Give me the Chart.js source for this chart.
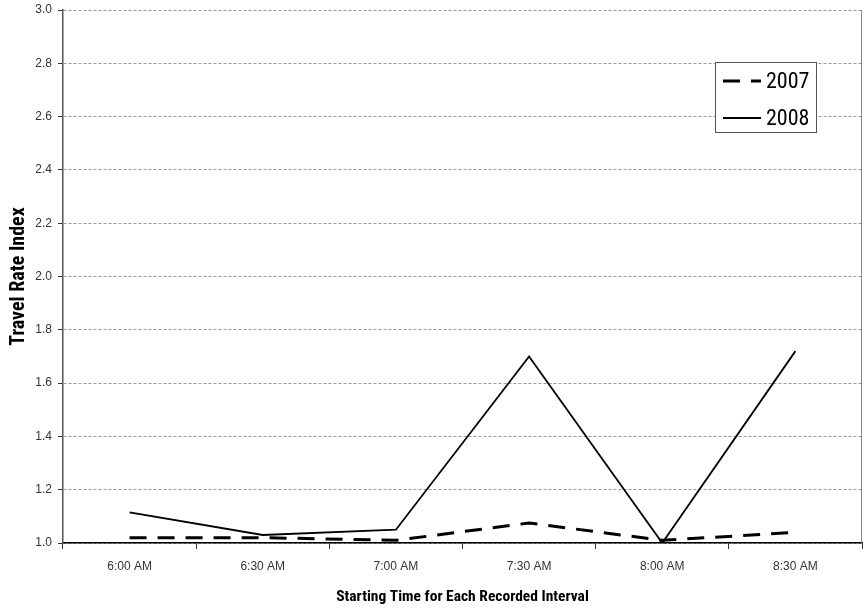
<!DOCTYPE html>
<html>
<head>
<meta charset="utf-8">
<script src="https://cdn.jsdelivr.net/npm/chart.js@4/dist/chart.umd.min.js"></script>
<style>
html,body{margin:0;padding:0;background:#fff;}
#wrap{width:865px;height:610px;position:relative;}
</style>
</head>
<body>
<div id="wrap"><canvas id="c" width="865" height="610"></canvas></div>
<script>
const categories = ["6:00 AM","6:30 AM","7:00 AM","7:30 AM","8:00 AM","8:30 AM"];
const series2007 = [1.02, 1.02, 1.01, 1.075, 1.01, 1.04];
const series2008 = [1.115, 1.03, 1.05, 1.70, 1.00, 1.72];
const yTicks = [1.0,1.2,1.4,1.6,1.8,2.0,2.2,2.4,2.6,2.8,3.0];
const seriesNames = ["2007","2008"];
const xTitle = "Starting Time for Each Recorded Interval";
const yTitle = "Travel Rate Index";

const NARROW = "'Liberation Sans Narrow','Roboto Condensed','DejaVu Sans Condensed',sans-serif";
const SANS = "'Liberation Sans',Arial,sans-serif";

const frame = {
  id:'frame',
  afterDraw(chart){
    const {ctx, chartArea:a} = chart;
    ctx.save();
    ctx.strokeStyle = '#888';
    ctx.lineWidth = 1;
    ctx.beginPath();
    ctx.moveTo(a.right-0.5, a.top);
    ctx.lineTo(a.right-0.5, a.bottom);
    ctx.stroke();
    // legend box
    const x0=715, y0=62, w=101, h=70;
    ctx.fillStyle='#fff';
    ctx.fillRect(x0,y0,w,h);
    ctx.strokeStyle='#555';
    ctx.lineWidth=1;
    ctx.strokeRect(x0+0.5,y0+0.5,w,h);
    const ds = chart.data.datasets;
    const rows=[81,118];
    ds.forEach((d,i)=>{
      ctx.beginPath();
      ctx.setLineDash(d.borderDash||[]);
      ctx.lineWidth=d.borderWidth;
      ctx.strokeStyle=d.borderColor;
      ctx.moveTo(723,rows[i]);
      ctx.lineTo(761,rows[i]);
      ctx.stroke();
      ctx.setLineDash([]);
      ctx.fillStyle='#000';
      ctx.font="22px "+NARROW;
      ctx.textBaseline='middle';
      ctx.textAlign='left';
      ctx.fillText(d.label,766,rows[i]+1);
    });
    ctx.restore();
  }
};

new Chart(document.getElementById('c'),{
  type:'line',
  data:{
    labels:categories,
    datasets:[
      {label:seriesNames[0],data:series2007,borderColor:'#000',borderWidth:3,borderDash:[17,11],pointRadius:0,fill:false,tension:0},
      {label:seriesNames[1],data:series2008,borderColor:'#000',borderWidth:1.8,pointRadius:0,fill:false,tension:0}
    ]
  },
  options:{
    responsive:false,
    animation:false,
    layout:{padding:{top:10,right:3,left:0,bottom:0}},
    plugins:{legend:{display:false},tooltip:{enabled:false}},
    scales:{
      x:{
        offset:true,
        grid:{offset:true,drawOnChartArea:false,drawTicks:true,tickLength:6,tickColor:'#333',tickWidth:1},
        border:{color:'#000',width:1.5},
        ticks:{color:'#333',font:{family:SANS,size:12},padding:10,maxRotation:0},
        title:{display:true,text:xTitle,color:'#000',font:{family:NARROW,size:15.5,weight:'bold'},padding:{top:11}},
        afterFit(s){s.height=67;s.paddingLeft=0;s.paddingRight=0;}
      },
      y:{
        min:1.0,max:3.0,
        afterBuildTicks(s){s.ticks=yTicks.map(v=>({value:v}));},
        grid:{color:'#999',lineWidth:1,drawTicks:true,tickLength:5,tickColor:'#333',tickBorderDash:[]},
        border:{color:'#555',width:1.5,dash:[3,2]},
        ticks:{color:'#333',font:{family:SANS,size:12},padding:6,callback:v=>Number(v).toFixed(1)},
        title:{display:true,text:yTitle,color:'#000',font:{family:NARROW,size:20,weight:'bold'},padding:{top:7,bottom:4}},
        afterFit(s){s.width=63;s.paddingTop=0;s.paddingBottom=0;}
      }
    }
  },
  plugins:[frame]
});
</script>
</body>
</html>
